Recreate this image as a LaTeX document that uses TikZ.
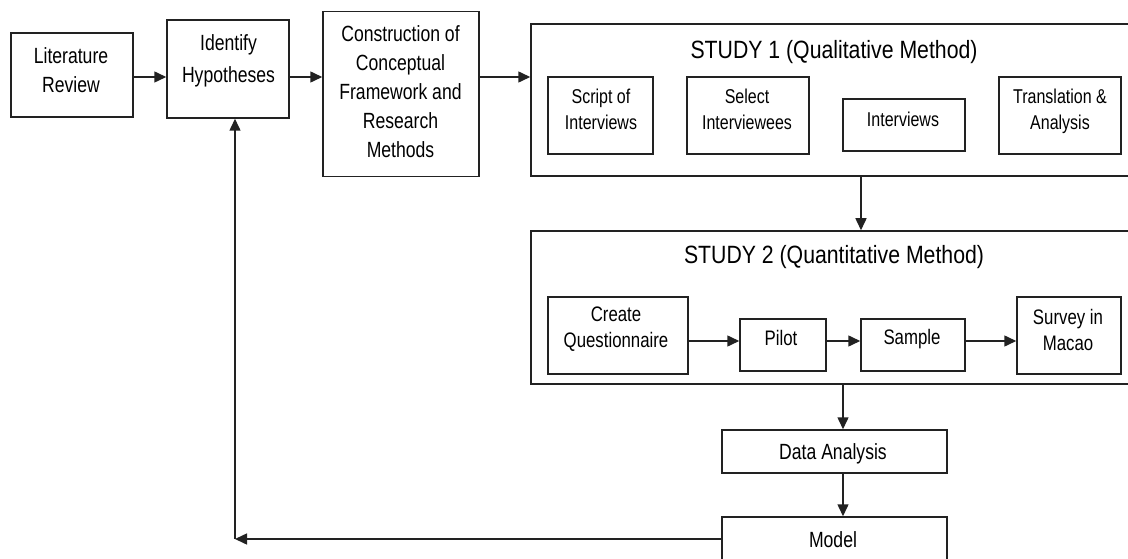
\documentclass[tikz,border=0pt]{standalone}
\usepackage{fontspec}
\newfontfamily\labfont{Liberation Sans}[FakeStretch=0.8]
\newfontfamily\ttlfont{Liberation Sans}[FakeStretch=0.85]
\usetikzlibrary{arrows.meta}
\definecolor{ink}{HTML}{222222}
\begin{document}
\begin{tikzpicture}[x=1pt,y=-1pt,
  box/.style={draw=ink, line width=1.5pt, inner sep=0pt, fill=white},
  lab/.style={font=\labfont\fontsize{22}{29}\selectfont, align=center, inner sep=0pt, text=black},
  labwide/.style={lab, font=\labfont\fontsize{22}{32}\selectfont},
  labin/.style={lab, font=\labfont\fontsize{20}{26}\selectfont},
  labqt/.style={lab, font=\labfont\fontsize{21}{26}\selectfont},
  ttl/.style={font=\ttlfont\fontsize{25}{30}\selectfont, inner sep=0pt, text=black},
  arr/.style={draw=ink, line width=1.5pt, -{Triangle[length=12pt,width=11pt]}}]

\useasboundingbox (0,0) rectangle (1128,559);
\fill[white] (0,0) rectangle (1128,559);
\clip (0,0) rectangle (1128,559);

% guide coordinates for the connectors
\coordinate (rowA) at (0,77);
\coordinate (rowB) at (0,341);
\coordinate (colA) at (861,0);
\coordinate (colB) at (843,0);
\coordinate (fb) at (235,539);

% top row
\node[box, minimum width=122pt, minimum height=84pt] (lit) at (72,75) {};
\node[lab] (litT) at (71,70) {Literature\\Review};
\node[box, minimum width=122pt, minimum height=98pt] (hyp) at (228,69) {};
\node[labwide] (hypT) at (228.5,61.3) {Identify\\Hypotheses};
\node[box, minimum width=156pt, minimum height=165pt] (cons) at (401,94) {};
\node[lab] (consT) at (400.5,92) {Construction of\\Conceptual\\Framework and\\Research\\Methods};

% study 1
\node[box, minimum width=606pt, minimum height=152pt] (s1) at (834,100) {};
\node[ttl, anchor=base] (s1T) at (834,59) {STUDY 1 (Qualitative Method)};
\node[box, minimum width=105pt, minimum height=77pt] (script) at (600.5,115.5) {};
\node[labin] (scriptT) at (601,109) {Script of\\Interviews};
\node[box, minimum width=122pt, minimum height=77pt] (select) at (748,115.5) {};
\node[labin] (selectT) at (747,109) {Select\\Interviewees};
\node[box, minimum width=122pt, minimum height=52pt] (intv) at (904,125) {};
\node[labin, anchor=base] (intvT) at (903,127) {Interviews};
\node[box, minimum width=122pt, minimum height=77pt] (trans) at (1060,115.5) {};
\node[labin] (transT) at (1060,111.8) {Translation \&\\Analysis};

% study 2
\node[box, minimum width=606pt, minimum height=153pt] (s2) at (834,307.5) {};
\node[ttl, anchor=base] (s2T) at (834,263) {STUDY 2 (Quantitative Method)};
\node[box, minimum width=140pt, minimum height=77pt] (create) at (618,335.5) {};
\node[labqt] (createT) at (616,329.4) {Create\\Questionnaire};
\node[box, minimum width=86pt, minimum height=52pt] (pilot) at (783,345) {};
\node[labqt, anchor=base] (pilotT) at (781,345) {Pilot};
\node[box, minimum width=104pt, minimum height=52pt] (sample) at (913,345) {};
\node[labqt, anchor=base] (sampleT) at (912,344) {Sample};
\node[box, minimum width=104pt, minimum height=77pt] (survey) at (1069,335.5) {};
\node[labqt] (surveyT) at (1068,330.4) {Survey in\\Macao};

% analysis and model
\node[box, minimum width=225pt, minimum height=43pt] (data) at (834.5,451.5) {};
\node[lab, anchor=base] (dataT) at (833,459) {Data Analysis};
\node[box, minimum width=225pt, minimum height=63pt] (model) at (834.5,548.5) {};
\node[lab, anchor=base] (modelT) at (833,547) {Model};

% connectors
\draw[arr] (lit.east |- rowA) -- (hyp.west |- rowA);
\draw[arr] (hyp.east |- rowA) -- (cons.west |- rowA);
\draw[arr] (cons.east |- rowA) -- (s1.west |- rowA);
\draw[arr] (s1.south -| colA) -- (s2.north -| colA);
\draw[arr] (create.east |- rowB) -- (pilot.west |- rowB);
\draw[arr] (pilot.east |- rowB) -- (sample.west |- rowB);
\draw[arr] (sample.east |- rowB) -- (survey.west |- rowB);
\draw[arr] (s2.south -| colB) -- (data.north -| colB);
\draw[arr] (data.south -| colB) -- (model.north -| colB);
\draw[arr] (model.west |- fb) -- (fb);
\draw[arr] (fb) -- (hyp.south -| fb);
\end{tikzpicture}
\end{document}
